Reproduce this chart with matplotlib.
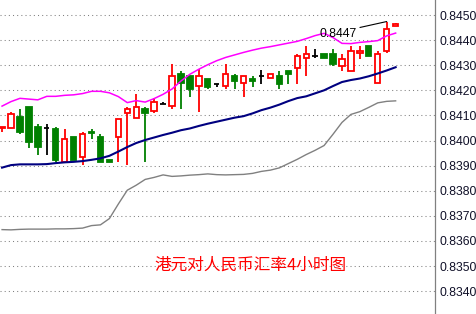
import numpy as np
import matplotlib
matplotlib.use("Agg")
import matplotlib.pyplot as plt
from matplotlib.patches import Rectangle

# 4h candles, HKD/CNY
opens = [0.84049, 0.84049, 0.84094, 0.84133, 0.84054, 0.84051, 0.84046, 0.83916, 0.84014, 0.83935,
         0.84035, 0.84013, 0.83922, 0.84015, 0.84108, 0.84088, 0.84126, 0.84116, 0.84147, 0.84136,
         0.84265, 0.84257, 0.84216, 0.84245, 0.84224, 0.84216, 0.84257, 0.84228, 0.84245, 0.84257,
         0.84248, 0.84257, 0.84278, 0.84288, 0.84327, 0.84335, 0.84345, 0.84345, 0.84298, 0.84278,
         0.84347, 0.84378, 0.84228, 0.84358, 0.84457]
highs = [0.84055, 0.84112, 0.84126, 0.84133, 0.84066, 0.84066, 0.84054, 0.84046, 0.84014, 0.84035,
         0.84046, 0.84025, 0.83922, 0.84084, 0.84133, 0.84185, 0.84135, 0.84168, 0.84155, 0.84305,
         0.84277, 0.84257, 0.84284, 0.84245, 0.84224, 0.84305, 0.84265, 0.84257, 0.84257, 0.84281,
         0.84264, 0.84277, 0.84278, 0.84345, 0.84377, 0.84365, 0.84345, 0.84365, 0.84345, 0.84378,
         0.84378, 0.84378, 0.84357, 0.84474, 0.84470]
lows = [0.84034, 0.84049, 0.84027, 0.83969, 0.83942, 0.83942, 0.83916, 0.83916, 0.83922, 0.83902,
        0.84006, 0.83916, 0.83915, 0.83916, 0.83902, 0.84088, 0.83916, 0.84108, 0.84147, 0.84127,
        0.84127, 0.84175, 0.84115, 0.84204, 0.84214, 0.84206, 0.84206, 0.84175, 0.84214, 0.84226,
        0.84248, 0.84206, 0.84226, 0.84226, 0.84257, 0.84327, 0.84327, 0.84298, 0.84278, 0.84278,
        0.84326, 0.84338, 0.84228, 0.84347, 0.84457]
closes = [0.84054, 0.84104, 0.84034, 0.83995, 0.83975, 0.84051, 0.83922, 0.84005, 0.83922, 0.84026,
          0.84029, 0.83916, 0.83915, 0.84084, 0.84124, 0.84132, 0.84108, 0.84152, 0.84147, 0.84257,
          0.84228, 0.84206, 0.84257, 0.84214, 0.84224, 0.84264, 0.84238, 0.84257, 0.84238, 0.84257,
          0.84264, 0.84226, 0.84266, 0.84335, 0.84345, 0.84335, 0.84327, 0.84306, 0.84326, 0.84357,
          0.84357, 0.84338, 0.84345, 0.84443, 0.84464]

# bollinger bands
upper = [0.84137, 0.84155, 0.84168, 0.84165, 0.84162, 0.84176, 0.84176, 0.84180, 0.84182, 0.84187,
         0.84196, 0.84196, 0.84190, 0.84175, 0.84151, 0.84159, 0.84153, 0.84167, 0.84184, 0.84205,
         0.84237, 0.84264, 0.84284, 0.84302, 0.84318, 0.84331, 0.84341, 0.84351, 0.84360, 0.84368,
         0.84374, 0.84381, 0.84388, 0.84395, 0.84406, 0.84418, 0.84427, 0.84410, 0.84387, 0.84386,
         0.84391, 0.84394, 0.84398, 0.84417, 0.84428]
middle = [0.83892, 0.83902, 0.83905, 0.83905, 0.83905, 0.83906, 0.83910, 0.83913, 0.83915, 0.83918,
          0.83923, 0.83929, 0.83939, 0.83956, 0.83974, 0.83990, 0.84002, 0.84012, 0.84022, 0.84031,
          0.84041, 0.84048, 0.84058, 0.84067, 0.84075, 0.84083, 0.84091, 0.84097, 0.84108, 0.84121,
          0.84131, 0.84143, 0.84157, 0.84169, 0.84176, 0.84188, 0.84200, 0.84217, 0.84233, 0.84241,
          0.84247, 0.84256, 0.84267, 0.84279, 0.84292]
lower = [0.83645, 0.83644, 0.83646, 0.83647, 0.83647, 0.83647, 0.83648, 0.83648, 0.83649, 0.83651,
         0.83661, 0.83664, 0.83689, 0.83747, 0.83802, 0.83822, 0.83845, 0.83853, 0.83863, 0.83857,
         0.83859, 0.83862, 0.83864, 0.83867, 0.83864, 0.83863, 0.83864, 0.83865, 0.83869, 0.83877,
         0.83882, 0.83891, 0.83908, 0.83925, 0.83944, 0.83961, 0.83980, 0.84025, 0.84072, 0.84104,
         0.84115, 0.84132, 0.84150, 0.84156, 0.84158]

tick_values = [0.8340, 0.8350, 0.8360, 0.8370, 0.8380, 0.8390,
               0.8400, 0.8410, 0.8420, 0.8430, 0.8440, 0.8450]
title = "港元对人民币汇率4小时图"

fig = plt.figure(figsize=(4.76, 3.14), dpi=100)
ax = fig.add_axes([0, 0, 435 / 476, 1])

n = len(opens)
x = np.arange(n)
w = 0.6
for i in range(n):
    o, h, l, c = opens[i], highs[i], lows[i], closes[i]
    if c > o:
        col, fill = "#ff0000", "white"
    elif c < o:
        col, fill = "#008000", "#008000"
    else:
        col, fill = "black", None
    ax.vlines(i, l, h, color=col, lw=1.3, zorder=2)
    if fill is None:
        ax.hlines(o, i - w / 2, i + w / 2, color=col, lw=1.3, zorder=3)
    else:
        ax.add_patch(Rectangle((i - w / 2, min(o, c)), w, abs(c - o),
                               facecolor=fill, edgecolor=col, lw=1.3, zorder=3))

ax.plot(x, upper, color="#ff00ff", lw=1.1, zorder=4)
ax.plot(x, middle, color="#000080", lw=1.5, zorder=4)
ax.plot(x, lower, color="#808080", lw=1.0, zorder=4)

# max label
imax = int(np.argmax(highs))
hi = highs[imax]
ax.annotate("{:.4f}".format(np.floor(hi * 1e4) / 1e4), xy=(imax, hi),
            xytext=(39.7, 0.84424), ha="right", va="center", fontsize=8.8,
            family="Liberation Sans", color="black",
            arrowprops=dict(arrowstyle="-", color="black", lw=0.8, relpos=(1, 1),
                            shrinkA=0, shrinkB=0), zorder=5)

ax.text(250 / 435, 1 - 265 / 314, title, transform=ax.transAxes, ha="center", va="center",
        color="#ff0000", fontsize=12, family=["Noto Sans CJK SC", "DejaVu Sans"])

ax.set_xlim(-0.23, 48.4)
ax.set_ylim(0.833088, 0.845598)
ax.set_xticks([])
ax.set_yticks(tick_values)
ax.set_yticklabels(["{:.4f}".format(v) for v in tick_values], family="Liberation Sans")
ax.yaxis.tick_right()
ax.tick_params(axis="y", length=0, pad=3, labelsize=8.8, labelcolor="#101028")
ax.yaxis.grid(True, color="#808080", lw=0.75, ls=(0, (1, 3)))
ax.set_axisbelow(True)
for s in ["top", "left", "bottom"]:
    ax.spines[s].set_visible(False)
ax.spines["right"].set_color("#808080")
ax.spines["right"].set_linewidth(0.9)

fig.savefig("out.png", dpi=100, facecolor="white")
